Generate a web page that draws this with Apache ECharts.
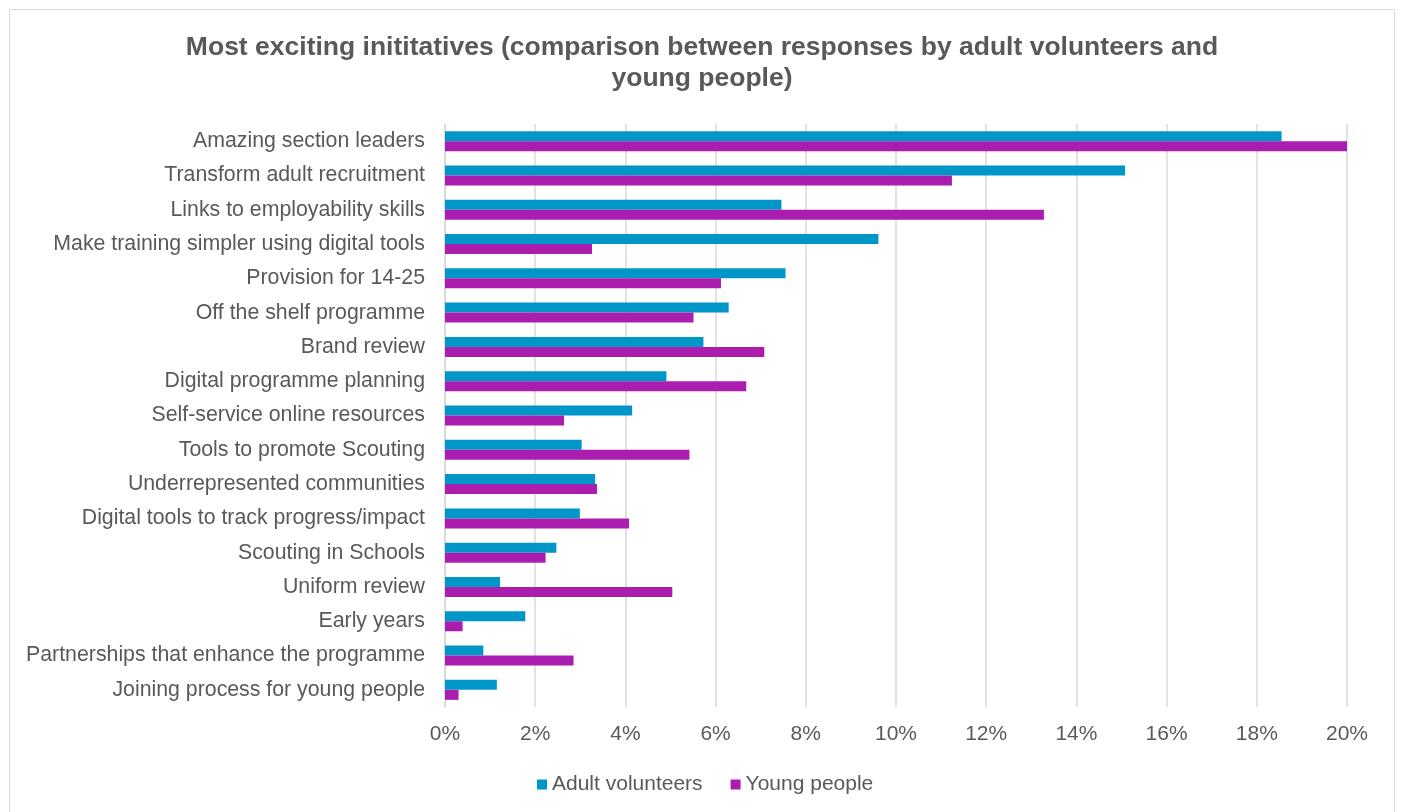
<!DOCTYPE html>
<html>
<head>
<meta charset="utf-8">
<script src="https://cdn.jsdelivr.net/npm/echarts@6/dist/echarts.min.js"></script>
<style>
  html, body { margin: 0; padding: 0; background: #ffffff; }
  #chart { width: 1402px; height: 812px; }
</style>
</head>
<body>
<div id="chart"></div>
<script>
// Initiatives, listed top to bottom
const categories = [
  'Amazing section leaders',
  'Transform adult recruitment',
  'Links to employability skills',
  'Make training simpler using digital tools',
  'Provision for 14-25',
  'Off the shelf programme',
  'Brand review',
  'Digital programme planning',
  'Self-service online resources',
  'Tools to promote Scouting',
  'Underrepresented communities',
  'Digital tools to track progress/impact',
  'Scouting in Schools',
  'Uniform review',
  'Early years',
  'Partnerships that enhance the programme',
  'Joining process for young people'
];

// Share of responses (%)
const adultVolunteers = [18.55, 15.08, 7.46, 9.61, 7.55, 6.29, 5.73, 4.91, 4.15, 3.03, 3.33, 2.99, 2.47, 1.22, 1.78, 0.85, 1.15];
const youngPeople     = [20.04, 11.24, 13.28, 3.26, 6.12, 5.51, 7.08, 6.68, 2.64, 5.42, 3.37, 4.08, 2.23, 5.04, 0.39, 2.85, 0.30];

const seriesNames = ['Adult volunteers', 'Young people'];
const axisTicks = [0, 2, 4, 6, 8, 10, 12, 14, 16, 18, 20];
const titleLines = [
  'Most exciting inititatives (comparison between responses by adult volunteers and',
  'young people)'
];

const FONT = '"Liberation Sans", Arial, sans-serif';
const TEXT = '#595959';

const chart = echarts.init(document.getElementById('chart'), null, { renderer: 'canvas' });

chart.setOption({
  backgroundColor: '#ffffff',
  animation: false,
  textStyle: { fontFamily: FONT },
  graphic: [
    {
      // chart frame
      type: 'rect',
      shape: { x: 9.5, y: 9.5, width: 1385, height: 820 },
      style: { fill: 'none', stroke: '#d9d9d9', lineWidth: 1 },
      silent: true
    },
    {
      type: 'text',
      x: 702,
      y: 32,
      style: {
        text: titleLines.join('\n'),
        align: 'center',
        verticalAlign: 'top',
        font: 'bold 26.5px ' + FONT,
        fill: TEXT,
        lineHeight: 31
      },
      silent: true
    }
  ],
  legend: {
    data: seriesNames,
    left: 532,
    top: 769,
    itemWidth: 10,
    itemHeight: 10,
    itemGap: 28,
    icon: 'rect',
    textStyle: { fontFamily: FONT, fontSize: 21, color: TEXT }
  },
  grid: {
    left: 445,
    right: 55,
    top: 124,
    bottom: 105,
    containLabel: false
  },
  xAxis: {
    type: 'value',
    min: axisTicks[0],
    max: axisTicks[axisTicks.length - 1],
    interval: 2,
    axisLine: { show: false },
    axisTick: { show: false },
    splitLine: { show: true, lineStyle: { color: '#d9d9d9', width: 1.5 } },
    axisLabel: {
      formatter: '{value}%',
      fontFamily: FONT,
      fontSize: 21,
      color: TEXT,
      margin: 17
    }
  },
  yAxis: {
    type: 'category',
    data: categories,
    inverse: true,
    axisLine: { show: true, lineStyle: { color: '#d9d9d9', width: 1.5 } },
    axisTick: { show: false },
    axisLabel: {
      fontFamily: FONT,
      fontSize: 21.3,
      color: TEXT,
      margin: 20
    }
  },
  series: [
    {
      name: seriesNames[0],
      type: 'bar',
      data: adultVolunteers,
      itemStyle: { color: '#0096C8' },
      barWidth: 10,
      barGap: '0%'
    },
    {
      name: seriesNames[1],
      type: 'bar',
      data: youngPeople,
      itemStyle: { color: '#AA1DAF' },
      barWidth: 10,
      barGap: '0%'
    }
  ]
});
</script>
</body>
</html>
